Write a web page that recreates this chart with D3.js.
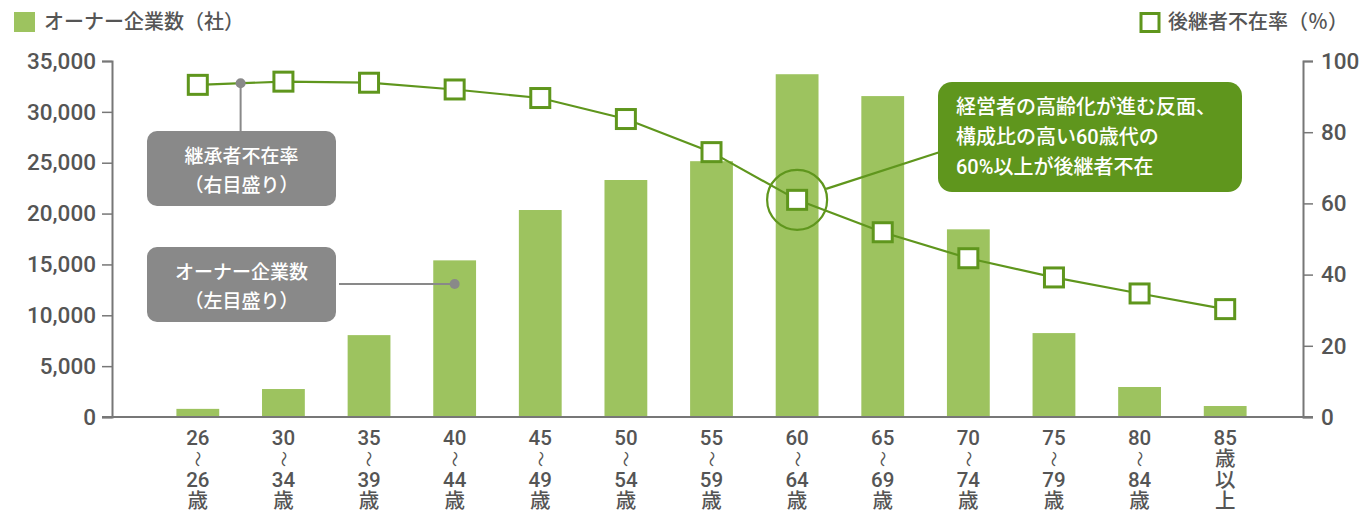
<!DOCTYPE html>
<html>
<head>
<meta charset="utf-8">
<script src="https://cdn.jsdelivr.net/npm/d3@7"></script>
<style>
  body { margin: 0; background: #fff; }
  text { font-family: "Roboto", "Noto Sans CJK JP", sans-serif; }
</style>
</head>
<body>
<script>
// data
let ageFrom = ['26', '30', '35', '40', '45', '50', '55', '60', '65', '70', '75', '80', '85'];
let ageTo = ['26', '34', '39', '44', '49', '54', '59', '64', '69', '74', '79', '84', null];
let owners = [800, 2750, 8050, 15400, 20350, 23300, 25150, 33700, 31550, 18450, 8250, 2950, 1080];
let absentRate = [93.3, 94.2, 93.9, 92.0, 89.6, 83.7, 74.4, 61.0, 51.9, 44.6, 39.2, 34.7, 30.3];
let leftTicks = [0, 5000, 10000, 15000, 20000, 25000, 30000, 35000];
let rightTicks = [0, 20, 40, 60, 80, 100];

let width = 1362, height = 514;
let margin = { top: 61, left: 112, bottom: 97, right: 59 };

let barColor = '#9dc35f';
let lineColor = '#5f961d';
let gray = '#555';
let boxGray = '#898989';
let fw = 500;

let svg = d3.select('body').append('svg').attr('width', width).attr('height', height);

let x = d3.scaleBand().domain(ageFrom).range([155, 1268]).paddingInner(0.5).paddingOuter(0.25);
let yL = d3.scaleLinear().domain([0, 35000]).range([height - margin.bottom, margin.top]);
let yR = d3.scaleLinear().domain([0, 100]).range([height - margin.bottom, margin.top]);

let x0 = margin.left, x1 = width - margin.right;
let cx = i => x(ageFrom[i]) + x.bandwidth() / 2;

// bars
svg.selectAll('.bar').data(owners).enter().append('rect')
  .attr('x', (d, i) => x(ageFrom[i]))
  .attr('width', x.bandwidth())
  .attr('y', d => yL(d))
  .attr('height', d => yL(0) - yL(d))
  .attr('fill', barColor);

// axes
let axisColor = '#777';
let leftAxis = svg.append('g').attr('transform', 'translate(' + x0 + ',0)')
  .call(d3.axisLeft(yL).tickValues(leftTicks).tickSize(10).tickPadding(6).tickFormat(d3.format(',')));
let rightAxis = svg.append('g').attr('transform', 'translate(' + x1 + ',0)')
  .call(d3.axisRight(yR).tickValues(rightTicks).tickSize(10).tickPadding(8));
[leftAxis, rightAxis].forEach(function(a) {
  a.select('.domain').attr('stroke', axisColor).attr('stroke-width', 2);
  a.selectAll('.tick line').attr('stroke', axisColor).attr('stroke-width', 1.5);
  a.selectAll('.tick text').attr('fill', gray).style('font-size', '22.5px').style('font-weight', fw)
    .style('font-family', '"Roboto", sans-serif');
});
svg.append('line').attr('x1', x0 - 10).attr('x2', x1 + 10)
  .attr('y1', yL(0)).attr('y2', yL(0)).attr('stroke', axisColor).attr('stroke-width', 2);

// x labels (one text per category, lines stacked as tspans; the wave dash is drawn upright)
let xl = svg.selectAll('.xl').data(ageFrom).enter().append('g')
  .attr('transform', (d, i) => 'translate(' + cx(i) + ',' + yL(0) + ')');
xl.each(function(d, i) {
  let g = d3.select(this);
  let lines = ageTo[i] ? [d, '', ageTo[i], '歳'] : [d, '歳', '以', '上'];
  let t = g.append('text').attr('text-anchor', 'middle').attr('fill', gray)
    .style('font-size', '20.5px').style('font-weight', fw);
  lines.forEach(function(s, k) {
    if (s) t.append('tspan').attr('x', 0).attr('y', 21 + k * 21).attr('dy', '0.35em').text(s);
  });
  if (ageTo[i]) {
    g.append('text').attr('transform', 'translate(0,42) rotate(90)').attr('dy', '0.35em')
      .attr('text-anchor', 'middle').attr('fill', gray)
      .style('font-family', '"Noto Sans CJK JP", sans-serif')
      .style('font-size', '16px').text('〜');
  }
});

// line
let line = d3.line().x((d, i) => cx(i)).y(d => yR(d));
svg.append('path').datum(absentRate).attr('d', line)
  .attr('fill', 'none').attr('stroke', lineColor).attr('stroke-width', 2.2);

// highlight circle on the 60 group
let cx60 = cx(7), cy60 = yR(absentRate[7]);
svg.append('circle').attr('cx', cx60).attr('cy', cy60).attr('r', 30)
  .attr('fill', 'none').attr('stroke', lineColor).attr('stroke-width', 2.2);

svg.selectAll('.mk').data(absentRate).enter().append('rect')
  .attr('x', (d, i) => cx(i) - 9.5)
  .attr('y', d => yR(d) - 9.5)
  .attr('width', 19).attr('height', 19)
  .attr('fill', '#fff').attr('stroke', lineColor).attr('stroke-width', 3);

// legends
svg.append('rect').attr('x', 14).attr('y', 12).attr('width', 21).attr('height', 20).attr('fill', barColor);
svg.append('text').attr('x', 44).attr('y', 22).attr('dy', '0.35em').attr('fill', gray)
  .style('font-size', '20px').style('font-weight', fw).text('オーナー企業数（社）');
svg.append('rect').attr('x', 1141).attr('y', 13.5).attr('width', 18).attr('height', 18)
  .attr('fill', '#fff').attr('stroke', lineColor).attr('stroke-width', 3);
svg.append('text').attr('x', 1168).attr('y', 22).attr('dy', '0.35em').attr('fill', gray)
  .style('font-size', '20px').style('font-weight', fw).text('後継者不在率（％）');

// gray callouts
function callout(bx, by, lines) {
  svg.append('rect').attr('x', bx).attr('y', by).attr('width', 189).attr('height', 75)
    .attr('rx', 10).attr('fill', boxGray);
  lines.forEach(function(t, k) {
    svg.append('text').attr('x', bx + 94.5).attr('y', by + 25 + k * 29).attr('dy', '0.35em')
      .attr('text-anchor', 'middle').attr('fill', '#fff')
      .style('font-size', '19px').style('font-weight', fw).text(t);
  });
}
let dot1x = (cx(0) + cx(1)) / 2;
let dot1y = yR((absentRate[0] + absentRate[1]) / 2);
svg.append('line').attr('x1', dot1x).attr('x2', dot1x).attr('y1', dot1y).attr('y2', 131)
  .attr('stroke', boxGray).attr('stroke-width', 2);
svg.append('circle').attr('cx', dot1x).attr('cy', dot1y).attr('r', 5).attr('fill', boxGray);
callout(147, 131, ['継承者不在率', '（右目盛り）']);

let dot2x = cx(3);
let dot2y = 284;
svg.append('line').attr('x1', 339).attr('x2', dot2x).attr('y1', dot2y).attr('y2', dot2y)
  .attr('stroke', boxGray).attr('stroke-width', 2);
svg.append('circle').attr('cx', dot2x).attr('cy', dot2y).attr('r', 5).attr('fill', boxGray);
callout(147, 247, ['オーナー企業数', '（左目盛り）']);

// green callout
svg.append('line').attr('x1', cx60 + 29).attr('y1', cy60 - 11).attr('x2', 940).attr('y2', 152)
  .attr('stroke', lineColor).attr('stroke-width', 2.2);
svg.append('rect').attr('x', 938).attr('y', 82).attr('width', 304).attr('height', 110)
  .attr('rx', 14).attr('fill', lineColor);
['経営者の高齢化が進む反面、', '構成比の高い60歳代の', '60%以上が後継者不在'].forEach(function(t, k) {
  svg.append('text').attr('x', 956).attr('y', 107 + k * 30).attr('dy', '0.35em')
    .attr('fill', '#fff').style('font-size', '20px').style('font-weight', fw).text(t);
});
</script>
</body>
</html>
